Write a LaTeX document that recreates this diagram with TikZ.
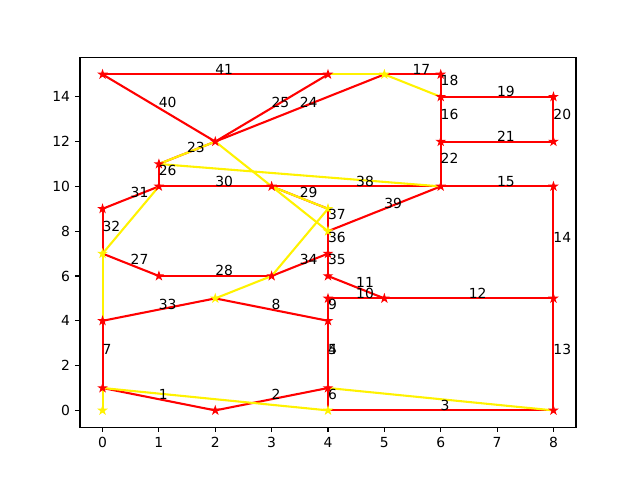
\documentclass[tikz,border=0pt]{standalone}
\usepackage{fontspec}
\setmainfont{DejaVu Sans}
\usetikzlibrary{shapes.geometric}
\pgfdeclarelayer{bg}
\pgfsetlayers{bg,main}
\begin{document}
\begin{tikzpicture}[x=40.582pt,y=16.128pt,
  mstar/.style={star, star points=5, star point ratio=2.618, minimum size=5.5pt, inner sep=0pt, outer sep=0pt, line width=0.8pt},
  rstar/.style={mstar, draw=red, fill=red},
  ystar/.style={mstar, draw=yellow, fill=yellow},
  redge/.style={draw=red, line width=1.5pt, line join=round},
  yedge/.style={draw=yellow, line width=1.5pt, line join=round},
  elabel/.style={anchor=base west, inner sep=0pt, outer sep=0pt, font=\fontsize{10}{12}\selectfont},
  ticklab/.style={inner sep=0pt, font=\fontsize{10}{12}\selectfont},
  axisline/.style={line width=0.8pt, black}]
\useasboundingbox (-1.8193,-3.1071) rectangle (9.5355,18.3214);
% axes frame
\draw[axisline] (-0.4,-0.75) rectangle (8.4,15.75);
\foreach \i in {0,...,8} {
  \draw[axisline] (\i,-0.75) -- ++(0,-3.5pt);
  \node[ticklab, anchor=north] (tx\i) at ([yshift=-7pt]\i,-0.75) {\i};
}
\foreach \j in {0,2,...,14} {
  \draw[axisline] (-0.4,\j) -- ++(-3.5pt,0);
  \node[ticklab, anchor=east] (ty\j) at ([xshift=-7pt]-0.4,\j) {\j};
}
% nodes
\foreach \x/\y in {0/15,4/15,6/15,2/12,6/14,8/14,6/12,8/12,1/11,0/9,1/10,3/10,6/10,8/10,1/6,3/6,4/7,4/6,4/5,5/5,8/5,0/4,4/4,0/1,2/0,4/1,8/0}
  \node[rstar] (n\x-\y) at (\x,\y) {};
\foreach \x/\y in {5/15,4/9,4/8,0/7,2/5,4/0,0/0}
  \node[ystar] (n\x-\y) at (\x,\y) {};
% red edges with labels
\foreach \a/\b/\l in {0-1/2-0/1, 2-0/4-1/2, 4-0/8-0/3, 4-1/4-4/5, 4-1/4-4/4, 4-0/4-1/6, 0-1/0-4/7,
  2-5/4-4/8, 4-4/4-5/9, 4-5/5-5/10, 4-6/5-5/11, 5-5/8-5/12, 8-0/8-5/13, 8-5/8-10/14,
  6-10/8-10/15, 6-12/6-14/16, 5-15/6-15/17, 6-14/6-15/18, 6-14/8-14/19, 8-12/8-14/20,
  6-12/8-12/21, 6-10/6-12/22, 1-11/2-12/23, 2-12/5-15/24, 2-12/4-15/25, 1-10/1-11/26,
  0-7/1-6/27, 1-6/3-6/28, 3-10/4-9/29, 1-10/3-10/30, 0-9/1-10/31, 0-7/0-9/32, 0-4/2-5/33,
  3-6/4-7/34, 4-6/4-7/35, 4-7/4-8/36, 4-8/4-9/37, 3-10/6-10/38, 4-8/6-10/39,
  0-15/2-12/40, 0-15/4-15/41} {
  \begin{pgfonlayer}{bg}
  \draw[redge] (n\a.center) -- (n\b.center);
  \end{pgfonlayer}
  \path (n\a.center) -- (n\b.center) node[elabel, midway] (lab\l) {\l};
}
% yellow edges
\begin{pgfonlayer}{bg}
\foreach \a/\b in {4-15/5-15, 5-15/6-14, 1-11/2-12, 1-11/6-10, 2-12/4-8, 3-10/4-9, 4-9/3-6,
  3-6/2-5, 0-7/1-10, 0-7/0-4, 0-1/0-0, 0-1/4-0, 4-1/8-0}
  \draw[yedge] (n\a.center) -- (n\b.center);
\end{pgfonlayer}
\end{tikzpicture}
\end{document}
